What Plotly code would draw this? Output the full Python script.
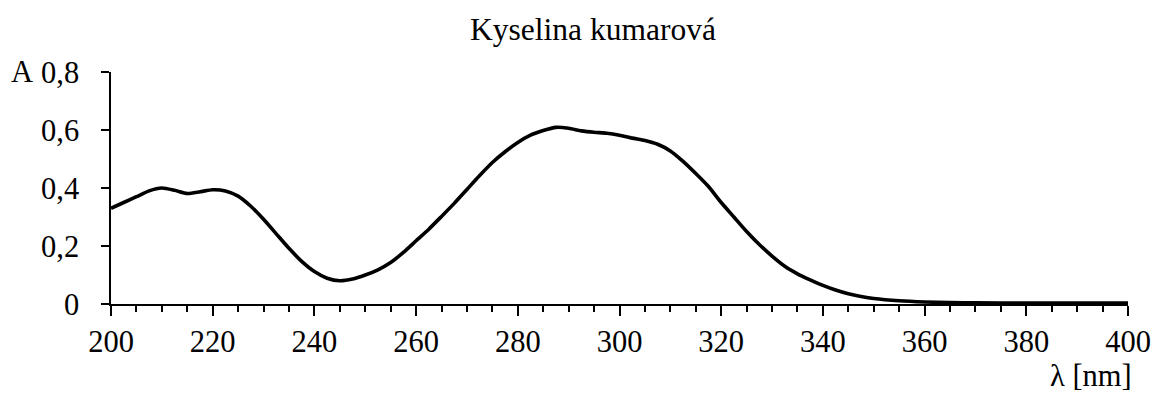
import plotly.graph_objects as go

wavelength_nm = [200, 202.5, 205, 207.5, 210, 212.5, 215, 217.5, 220, 222.5, 225, 227.5,
                 230, 232.5, 235, 237.5, 240, 242.5, 245, 247.5, 250, 252.5, 255, 257.5,
                 260, 262.5, 265, 267.5, 270, 272.5, 275, 277.5, 280, 282.5, 285, 287.5,
                 290, 292.5, 295, 297.5, 300, 302.5, 305, 307.5, 310, 312.5, 315, 317.5,
                 320, 322.5, 325, 327.5, 330, 332.5, 335, 337.5, 340, 342.5, 345, 347.5,
                 350, 355, 360, 365, 370, 380, 390, 400]
absorbance = [0.33, 0.35, 0.37, 0.39, 0.40, 0.392, 0.381, 0.387, 0.394, 0.39, 0.372, 0.337,
              0.292, 0.242, 0.192, 0.147, 0.112, 0.089, 0.080, 0.086, 0.100, 0.118, 0.143, 0.178,
              0.218, 0.258, 0.302, 0.347, 0.395, 0.443, 0.488, 0.525, 0.557, 0.582, 0.598, 0.609,
              0.606, 0.597, 0.592, 0.589, 0.582, 0.572, 0.564, 0.551, 0.528, 0.492, 0.45, 0.405,
              0.35, 0.30, 0.25, 0.205, 0.165, 0.13, 0.104, 0.083, 0.064, 0.048, 0.035, 0.026,
              0.019, 0.011, 0.007, 0.005, 0.004, 0.003, 0.003, 0.003]

y_tickvals = [0, 0.2, 0.4, 0.6, 0.8]
y_ticktext = ["0", "0,2", "0,4", "0,6", "0,8"]
x_tickvals = [200, 220, 240, 260, 280, 300, 320, 340, 360, 380, 400]
x_ticktext = [str(v) for v in x_tickvals]

title_text = "Kyselina kumarová"
y_label = "A"
x_label = "λ [nm]"

FONT = "Liberation Serif"
FS = 30.5

fig = go.Figure()
fig.add_trace(go.Scatter(x=wavelength_nm, y=absorbance, mode="lines",
                         line=dict(color="black", width=3.6, shape="spline", smoothing=0.6),
                         showlegend=False, hoverinfo="skip"))

fig.update_layout(
    width=1168, height=394,
    margin=dict(l=111, r=40, t=72, b=90),
    paper_bgcolor="white", plot_bgcolor="white",
    font=dict(family=FONT, size=FS, color="black"),
    title=dict(text=title_text, x=593 / 1168, xref="container", xanchor="center",
               y=1 - 29 / 394, yref="container", yanchor="middle",
               font=dict(family=FONT, size=31.5, color="black")),
    xaxis=dict(range=[200, 400], tickmode="array", tickvals=x_tickvals, ticktext=x_ticktext,
               showgrid=False, zeroline=False, showline=True, linecolor="black", linewidth=1.5,
               ticks="outside", ticklen=10, tickwidth=1.5, tickcolor="black",
               minor=dict(dtick=5, tick0=200, ticks="outside", ticklen=6, tickwidth=1.5,
                          tickcolor="black", showgrid=False),
               tickfont=dict(family=FONT, size=FS, color="black")),
    yaxis=dict(range=[0, 0.8], tickmode="array", tickvals=y_tickvals, ticktext=y_ticktext,
               showgrid=False, zeroline=False, showline=True, linecolor="black", linewidth=1.5,
               ticks="outside", ticklen=8, tickwidth=1.5, tickcolor="black",
               ticklabelstandoff=16,
               tickfont=dict(family=FONT, size=FS, color="black")),
)

fig.add_annotation(text=y_label, xref="paper", yref="paper", x=(9 - 111) / 1017, y=1.0,
                   xanchor="left", yanchor="middle", showarrow=False,
                   font=dict(family=FONT, size=FS, color="black"))
fig.add_annotation(text=x_label, xref="paper", yref="paper", x=(1134 - 111) / 1017,
                   y=(304 - 376) / 232, xanchor="right", yanchor="middle", showarrow=False,
                   font=dict(family=FONT, size=FS, color="black"))

fig.write_html("out.html")
